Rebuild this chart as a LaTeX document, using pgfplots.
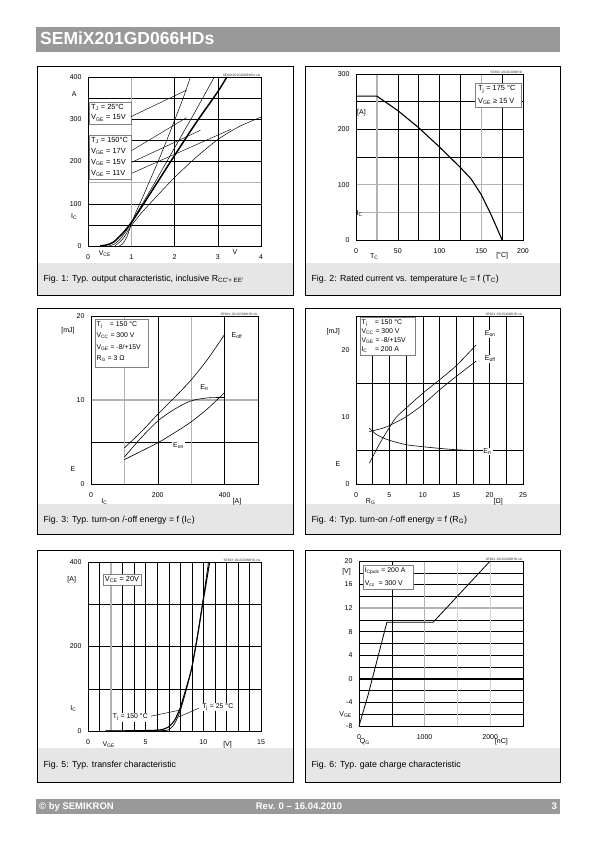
\documentclass[border=0pt]{standalone}
\usepackage{fontspec}
\setmainfont{Liberation Sans}
\usepackage{pgfplots}
\pgfplotsset{compat=1.18}
\definecolor{hdr}{RGB}{153,153,153}
\definecolor{capc}{RGB}{230,230,230}
\definecolor{ggc}{RGB}{178,178,178}
\newcommand{\tf}{\fontsize{7}{8}\selectfont}
\newcommand{\bxf}{\fontsize{7.4}{8.4}\selectfont}
\newcommand{\sxf}{\fontsize{6.9}{8}\selectfont}
\newcommand{\sub}[1]{\textsubscript{#1}}
\tikzset{gb/.style={black,line width=0.45pt}, gg/.style={ggc,line width=1.4pt},
  lbox/.style={draw=gray,fill=white,line width=0.5pt},
  lt/.style={anchor=west,font=\bxf,inner sep=0pt},
  ls/.style={anchor=west,font=\sxf,inner sep=0pt},
  wm/.style={anchor=south east,font=\fontsize{3.3}{4}\selectfont,inner sep=0.6pt,text=black!80}}
\pgfplotsset{ds/.style={scale only axis, anchor=south west, axis line style={line width=0.8pt},
  major tick length=0pt, minor tick length=0pt, tick style={draw=none},
  ticklabel style={font=\tf}, xticklabel style={yshift=-5pt}, yticklabel style={xshift=-3pt},
  clip=false, axis on top, /pgf/number format/assume math mode=true}}
\begin{document}
\begin{tikzpicture}
\begin{scope}[x=1pt,y=1pt]
\fill[white] (0,0) rectangle (595,842);
\fill[hdr] (36,790) rectangle (560,815);
\node[anchor=base west,text=white,font=\bfseries\fontsize{17.5}{18}\selectfont,inner sep=0pt] at (40,797) {SEMiX201GD066HDs};
% panels
\foreach \xa/\xb in {37/293,305/560}{
  \foreach \yt/\yb/\yc in {776/547/579,534/308/338,292/60/94}{
    \fill[capc] (\xa,\yb) rectangle (\xb,\yc);
    \draw[line width=0.8pt] (\xa,\yb) rectangle (\xb,\yt);
  }}
\node[anchor=west,font=\fontsize{8.8}{9.5}\selectfont] at (40,563) {Fig. 1: Typ. output characteristic, inclusive R\sub{CC'+ EE'}};
\node[anchor=west,font=\fontsize{8.8}{9.5}\selectfont] at (308,563) {Fig. 2: Rated current vs. temperature I\sub{C} = f (T\sub{C})};
\node[anchor=west,font=\fontsize{8.8}{9.5}\selectfont] at (40,322) {Fig. 3: Typ. turn-on /-off energy = f (I\sub{C})};
\node[anchor=west,font=\fontsize{8.8}{9.5}\selectfont] at (308,322) {Fig. 4: Typ. turn-on /-off energy = f (R\sub{G})};
\node[anchor=west,font=\fontsize{8.8}{9.5}\selectfont] at (40,77) {Fig. 5: Typ. transfer characteristic};
\node[anchor=west,font=\fontsize{8.8}{9.5}\selectfont] at (308,77) {Fig. 6: Typ. gate charge characteristic};
% footer
\fill[hdr] (36,28) rectangle (560,43);
\node[anchor=base west,text=white,font=\bfseries\fontsize{9.5}{10}\selectfont,inner sep=0pt] at (39,32) {© by SEMIKRON};
\node[anchor=base,text=white,font=\bfseries\fontsize{9.5}{10}\selectfont,inner sep=0pt] at (299,32) {Rev. 0 – 16.04.2010};
\node[anchor=base east,text=white,font=\bfseries\fontsize{9.5}{10}\selectfont,inner sep=0pt] at (557,32) {3};
\end{scope}

% ---------------- Fig 1
\begin{axis}[ds, at={(88pt,596pt)}, width=173pt, height=169pt,
  xmin=0,xmax=4,ymin=0,ymax=400,
  xtick={0,1,2,3,4}, xticklabels={0,1,2,3,4},
  ytick={0,100,200,300,400}, yticklabels={0,100,200,300,400}]
\pgfplotsinvokeforeach{50,100,200,250,300,350}{\draw[gb] (axis cs:0,#1) -- (axis cs:4,#1);}
\draw[gg] (axis cs:0,150) -- (axis cs:4,150);
\pgfplotsinvokeforeach{2,3}{\draw[gb] (axis cs:#1,0) -- (axis cs:#1,400);}
\draw[gg] (axis cs:1,0) -- (axis cs:1,400);
\addplot[black,line width=0.5pt,smooth,tension=0.4] coordinates {(0.72,0)(0.8,5)(0.9,22)(1.0,52)(1.1,78)(1.25,112)(1.4,148)(1.6,195)(1.8,245)(2.0,297)(2.2,350)(2.37,400)};
\addplot[black,line width=0.5pt,smooth,tension=0.4] coordinates {(0.48,0)(0.6,4)(0.75,17)(0.9,38)(1.0,55)(1.2,90)(1.5,142)(2.0,232)(2.5,322)(2.92,400)};
\addplot[black,line width=1.5pt,smooth,tension=0.4] coordinates {(0.28,0)(0.45,3)(0.6,10)(0.8,30)(1.0,55)(1.2,86)(1.5,134)(2.0,214)(2.5,292)(3.0,365)(3.21,400)};
\addplot[black,line width=0.5pt,smooth,tension=0.4] coordinates {(0.62,0)(0.8,16)(1.0,48)(1.25,80)(1.5,108)(2.0,162)(2.5,210)(3.0,252)(3.5,283)(4.0,305)};
\draw[lbox] (axis cs:0.03,289) rectangle (axis cs:0.99,340);
\node[lt] at (axis cs:0.07,327) {T\sub{J} = 25°C};
\node[lt] at (axis cs:0.07,303) {V\sub{GE} = 15V};
\draw[lbox] (axis cs:0.03,159) rectangle (axis cs:1.01,262);
\node[lt] at (axis cs:0.07,250) {T\sub{J} = 150°C};
\node[lt] at (axis cs:0.07,224) {V\sub{GE} = 17V};
\node[lt] at (axis cs:0.07,198) {V\sub{GE} = 15V};
\node[lt] at (axis cs:0.07,172) {V\sub{GE} = 11V};
\draw[black,line width=0.45pt] (axis cs:0.99,306) -- (axis cs:2.28,369);
\draw[black,line width=0.45pt] (axis cs:1.01,226) -- (axis cs:2.28,304);
\draw[black,line width=0.45pt] (axis cs:1.01,198) -- (axis cs:2.6,274);
\draw[black,line width=0.45pt] (axis cs:1.01,172) -- (axis cs:3.3,276);
\node[font=\tf] at (axis cs:-0.32,360) {A};
\node[font=\tf] at (axis cs:-0.32,69) {I\sub{C}};
\node[font=\tf] at (axis cs:0.39,-17) {V\sub{CE}};
\node[font=\tf] at (axis cs:3.4,-15) {V};
\node[wm] at (rel axis cs:1,1) {SEMiX201GD066HDs.xls};
\end{axis}

% ---------------- Fig 2
\begin{axis}[ds, at={(356pt,602pt)}, width=167pt, height=166pt,
  xmin=0,xmax=200,ymin=0,ymax=300,
  xtick={0,50,100,150,200}, xticklabels={0,50,100,150,200},
  ytick={0,100,200,300}, yticklabels={0,100,200,300}]
\pgfplotsinvokeforeach{150,200,250}{\draw[gb] (axis cs:0,#1) -- (axis cs:200,#1);}
\pgfplotsinvokeforeach{50,100}{\draw[gg] (axis cs:0,#1) -- (axis cs:200,#1);}
\pgfplotsinvokeforeach{50,75,100,125,175}{\draw[gb] (axis cs:#1,0) -- (axis cs:#1,300);}
\pgfplotsinvokeforeach{25,150}{\draw[gg] (axis cs:#1,0) -- (axis cs:#1,300);}
\addplot[black,line width=1.1pt] coordinates {(0,260)(25,260)(50,234)(75,203)(100,168)(125,131)(138,110)(150,82)(162,45)(175,0)};
\draw[lbox] (axis cs:143,240) rectangle (axis cs:198,284);
\node[lt] at (axis cs:146,272) {T\sub{j} = 175 °C};
\node[lt] at (axis cs:146,250) {V\sub{GE} ≥ 15 V};
\node[font=\tf] at (axis cs:6.5,230) {[A]};
\node[font=\tf] at (axis cs:4.5,47) {I\sub{C}};
\node[font=\tf] at (axis cs:22,-30) {T\sub{C}};
\node[font=\tf] at (axis cs:175,-29) {[°C]};
\node[wm] at (rel axis cs:1,1) {SEMiX 201GD066HD};
\end{axis}

% ---------------- Fig 3
\begin{axis}[ds, at={(91pt,358pt)}, width=167pt, height=168pt,
  xmin=0,xmax=500,ymin=0,ymax=20,
  xtick={0,200,400}, xticklabels={0,200,400},
  ytick={0,10,20}, yticklabels={0,10,20}]
\draw[gb] (axis cs:0,5) -- (axis cs:500,5);
\draw[gg] (axis cs:0,10) -- (axis cs:500,10);
\pgfplotsinvokeforeach{200,400}{\draw[gb] (axis cs:#1,0) -- (axis cs:#1,20);}
\pgfplotsinvokeforeach{100,300}{\draw[gg] (axis cs:#1,0) -- (axis cs:#1,20);}
\addplot[black,line width=0.6pt,smooth] coordinates {(100,4.3)(150,6.2)(200,8.3)(250,10.3)(300,12.4)(350,14.9)(400,17.8)};
\addplot[black,line width=0.6pt,smooth] coordinates {(100,3.2)(150,5.5)(200,7.5)(250,8.9)(300,9.9)(350,10.25)(400,10.3)};
\addplot[black,line width=0.6pt,smooth] coordinates {(100,2.9)(150,3.9)(200,4.9)(250,6.1)(300,7.4)(350,9.0)(400,10.9)};
\draw[lbox] (axis cs:12,13.9) rectangle (axis cs:172,19.6);
\node[ls] at (axis cs:16,18.95) {T\sub{j}\hspace{1.1em}= 150 °C};
\node[ls] at (axis cs:16,17.65) {V\sub{CC} = 300 V};
\node[ls] at (axis cs:16,16.3) {V\sub{GE} = -8/+15V};
\node[ls] at (axis cs:16,14.9) {R\sub{G} = 3 Ω};
\node[font=\tf] at (axis cs:437,17.7) {E\sub{off}};
\node[font=\tf] at (axis cs:340,11.5) {E\sub{rr}};
\node[font=\tf,fill=white,inner sep=0.8pt] at (axis cs:262,4.6) {E\sub{on}};
\node[font=\tf] at (axis cs:-69,18.3) {[mJ]};
\node[font=\tf] at (axis cs:-54,1.8) {E};
\node[font=\tf] at (axis cs:40,-2.1) {I\sub{C}};
\node[font=\tf] at (axis cs:437,-2.1) {[A]};
\node[wm] at (rel axis cs:1,1) {SEMiX 201GD066HD.xls};
\end{axis}

% ---------------- Fig 4
\begin{axis}[ds, at={(356pt,358pt)}, width=167pt, height=168pt,
  xmin=0,xmax=25,ymin=0,ymax=25,
  xtick={0,5,10,15,20,25}, xticklabels={0,5,10,15,20,25},
  ytick={0,10,20}, yticklabels={0,10,20}]
\pgfplotsinvokeforeach{5,15}{\draw[gb] (axis cs:0,#1) -- (axis cs:25,#1);}
\pgfplotsinvokeforeach{2.5,5,7.5,10,12.5,15,17.5,20,22.5}{\draw[gb] (axis cs:#1,0) -- (axis cs:#1,25);}
\addplot[black,line width=0.6pt,smooth] coordinates {(2,3.1)(3,5.0)(4,6.8)(5,8.4)(6,9.9)(7.5,11.3)(10,13.5)(12.5,15.5)(15,17.6)(18,20.7)};
\addplot[black,line width=0.6pt,smooth] coordinates {(2,7.8)(4,8.3)(5,8.7)(6,9.2)(7.5,10.0)(10,11.8)(12.5,14.0)(15,16.0)(18,18.3)};
\addplot[black,line width=0.6pt,smooth] coordinates {(2,8.3)(3,7.4)(4,6.9)(5,6.5)(7.5,5.85)(10,5.55)(12.5,5.3)(15,5.1)(18,4.95)};
\draw[lbox] (axis cs:0.6,19.1) rectangle (axis cs:8.9,24.75);
\node[ls] at (axis cs:0.8,24.0) {T\sub{j}\hspace{1.1em}= 150 °C};
\node[ls] at (axis cs:0.8,22.65) {V\sub{CC} = 300 V};
\node[ls] at (axis cs:0.8,21.3) {V\sub{GE} = -8/+15V};
\node[ls] at (axis cs:0.8,19.95) {I\sub{C}\hspace{1.1em}= 200 A};
\node[font=\tf,fill=white,inner sep=0.8pt] at (axis cs:20.1,22.35) {E\sub{on}};
\node[font=\tf,fill=white,inner sep=0.8pt] at (axis cs:20.1,18.6) {E\sub{off}};
\node[font=\tf,fill=white,inner sep=0.8pt] at (axis cs:19.7,4.85) {E\sub{rr}};
\node[font=\tf] at (axis cs:-3.4,22.7) {[mJ]};
\node[font=\tf] at (axis cs:-2.7,3.0) {E};
\node[font=\tf] at (axis cs:2.2,-2.65) {R\sub{G}};
\node[font=\tf] at (axis cs:21.3,-2.65) {[Ω]};
\node[wm] at (rel axis cs:1,1) {SEMiX 201GD066HD.xls};
\end{axis}

% ---------------- Fig 5
\begin{axis}[ds, at={(88pt,111pt)}, width=173pt, height=169pt,
  xmin=0,xmax=15,ymin=0,ymax=400,
  xtick={0,5,10,15}, xticklabels={0,5,10,15},
  ytick={0,200,400}, yticklabels={0,200,400}]
\pgfplotsinvokeforeach{100,200,300}{\draw[gb] (axis cs:0,#1) -- (axis cs:15,#1);}
\pgfplotsinvokeforeach{1,3,4,5,6,7,8,9,10,11,12,13,14}{\draw[gb] (axis cs:#1,0) -- (axis cs:#1,400);}
\draw[gg] (axis cs:2,0) -- (axis cs:2,400);
\addplot[black,line width=1.1pt,smooth,tension=0.4] coordinates {(1.5,0)(5,1)(6,2)(6.5,4)(7,10)(7.5,25)(8,55)(8.5,100)(9,150)(9.5,225)(10,310)(10.55,400)};
\addplot[black,line width=0.7pt,smooth,tension=0.4] coordinates {(1.5,0)(5,0)(6.5,1)(7,3)(7.5,17)(8,48)(8.5,95)(9,150)(9.5,228)(10,315)(10.45,400)};
\draw[lbox] (axis cs:1.3,346) rectangle (axis cs:4.6,372);
\node[lt] at (axis cs:1.45,359) {V\sub{CE} = 20V};
\node[font=\sxf,fill=white,inner sep=0.6pt] at (axis cs:3.67,32) {T\sub{j} = 150 °C};
\node[font=\sxf,fill=white,inner sep=0.6pt] at (axis cs:11.25,56) {T\sub{j} = 25 °C};
\draw[black,line width=0.45pt] (axis cs:5.45,35) -- (axis cs:7.88,49);
\draw[black,line width=0.45pt] (axis cs:9.6,54) -- (axis cs:7.85,33);
\node[font=\tf] at (axis cs:-1.41,357) {[A]};
\node[font=\tf] at (axis cs:-1.27,52) {I\sub{C}};
\node[font=\tf] at (axis cs:1.8,-33) {V\sub{GE}};
\node[font=\tf] at (axis cs:12.1,-33) {[V]};
\node[wm] at (rel axis cs:1,1) {SEMiX 201GD066HD.xls};
\end{axis}

% ---------------- Fig 6
\begin{axis}[ds, at={(359pt,116pt)}, width=164pt, height=165pt,
  xmin=0,xmax=2500,ymin=-8,ymax=20,
  xtick={0,1000,2000}, xticklabels={0,1000,2000},
  ytick={-8,-4,0,4,8,12,16,20}, yticklabels={-8,-4,0,4,8,12,16,20}]
\pgfplotsinvokeforeach{-6,-4,-2,2,4,6,8,10,14,16,18}{\draw[gb] (axis cs:0,#1) -- (axis cs:2500,#1);}
\draw[gg] (axis cs:0,12) -- (axis cs:2500,12);
\draw[gb] (axis cs:500,-8) -- (axis cs:500,20);
\draw[gg] (axis cs:1000,-8) -- (axis cs:1000,20);
\pgfplotsinvokeforeach{1500,2000}{\draw[ggc!60,line width=1.2pt] (axis cs:#1,-8) -- (axis cs:#1,20);}
\draw[black,line width=1.3pt] (axis cs:0,0) -- (axis cs:2500,0);
\addplot[black,line width=0.8pt] coordinates {(0,-8)(137,-2.8)(425,9.6)(1130,9.6)(2000,20)};
\draw[lbox] (axis cs:71,15.2) rectangle (axis cs:823,19.2);
\node[ls] at (axis cs:85,18.3) {I\sub{Cpuls} = 200 A};
\node[ls] at (axis cs:85,16.2) {V\sub{cc}\hspace{0.6em}= 300 V};
\node[font=\tf] at (axis cs:-190,18.2) {[V]};
\node[font=\tf] at (axis cs:-205,-6.1) {V\sub{GE}};
\node[font=\tf] at (axis cs:90,-10.7) {Q\sub{G}};
\node[font=\tf] at (axis cs:2170,-10.7) {[nC]};
\node[wm] at (rel axis cs:1,1) {SEMiX 201GD066HD.xls};
\end{axis}
\end{tikzpicture}
\end{document}
